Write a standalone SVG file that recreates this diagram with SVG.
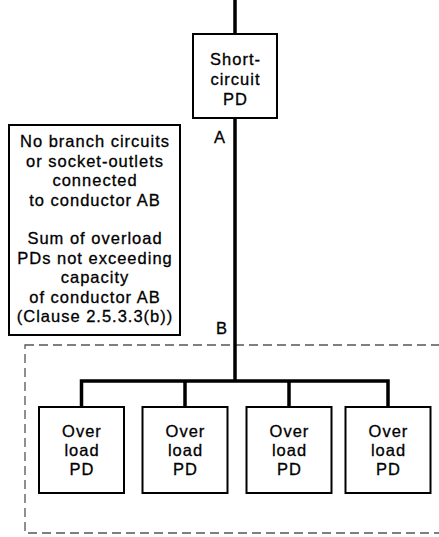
<svg xmlns="http://www.w3.org/2000/svg" width="439" height="537" viewBox="0 0 439 537">
<style>
.box{fill:#fff;stroke:#000;stroke-width:2}
.t{font-family:"Liberation Sans",Arial,sans-serif;font-size:16.5px;fill:#000;stroke:#000;stroke-width:0.3;text-anchor:middle;letter-spacing:1px}
.w{fill:none;stroke:#000;stroke-width:3.5}
.dash{fill:none;stroke:#555;stroke-width:1.3;stroke-dasharray:9 5}
</style>
<rect width="439" height="537" fill="#fff"/>
<rect class="dash" x="25" y="345" width="430" height="188"/>
<g id="connectors">
<line class="w" x1="235" y1="0" x2="235" y2="34"/>
<line class="w" x1="235" y1="118" x2="235" y2="381"/>
<polyline class="w" points="81.5,407 81.5,381 388,381 388,407"/>
<line class="w" x1="185" y1="381" x2="185" y2="407"/>
<line class="w" x1="289" y1="381" x2="289" y2="407"/>
</g>
<g id="short-circuit-pd">
<rect class="box" x="193" y="34" width="84" height="84"/>
<text class="t" x="235.5" y="65">Short-</text>
<text class="t" x="235.5" y="85">circuit</text>
<text class="t" x="235.5" y="105">PD</text>
</g>
<g id="label-A"><text class="t" x="220" y="143">A</text></g>
<g id="label-B"><text class="t" x="222" y="334">B</text></g>
<g id="note">
<rect class="box" x="9" y="125" width="171" height="210"/>
<text class="t" x="95" y="147">No branch circuits</text>
<text class="t" x="95" y="167">or socket-outlets</text>
<text class="t" x="95" y="186">connected</text>
<text class="t" x="95" y="206">to conductor AB</text>
<text class="t" x="95" y="244">Sum of overload</text>
<text class="t" x="95" y="264">PDs not exceeding</text>
<text class="t" x="95" y="283">capacity</text>
<text class="t" x="95" y="303">of conductor AB</text>
<text class="t" x="95" y="322">(Clause 2.5.3.3(b))</text>
</g>
<g id="overload-pd-1">
<rect class="box" x="39" y="407" width="85" height="86"/>
<text class="t" x="82" y="437">Over</text>
<text class="t" x="82" y="456">load</text>
<text class="t" x="82" y="475">PD</text>
</g>
<g id="overload-pd-2">
<rect class="box" x="142.5" y="407" width="85" height="86"/>
<text class="t" x="185.5" y="437">Over</text>
<text class="t" x="185.5" y="456">load</text>
<text class="t" x="185.5" y="475">PD</text>
</g>
<g id="overload-pd-3">
<rect class="box" x="246.5" y="407" width="85" height="86"/>
<text class="t" x="289.5" y="437">Over</text>
<text class="t" x="289.5" y="456">load</text>
<text class="t" x="289.5" y="475">PD</text>
</g>
<g id="overload-pd-4">
<rect class="box" x="345.5" y="407" width="85" height="86"/>
<text class="t" x="388.5" y="437">Over</text>
<text class="t" x="388.5" y="456">load</text>
<text class="t" x="388.5" y="475">PD</text>
</g>
</svg>
